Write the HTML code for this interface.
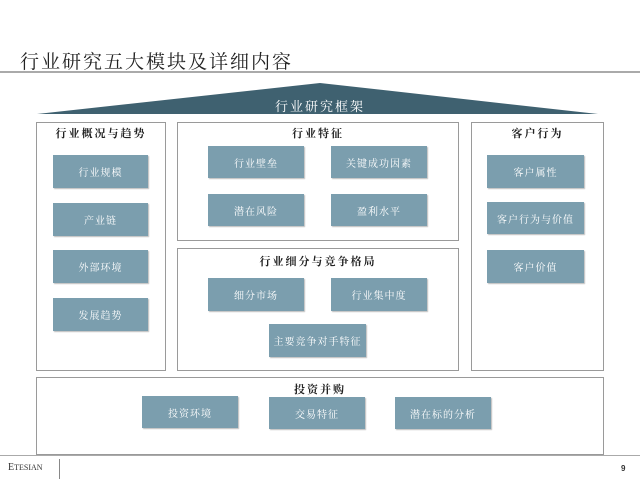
<!DOCTYPE html>
<html><head><meta charset="utf-8"><style>
body{margin:0;width:640px;height:480px;background:#fff;position:relative;overflow:hidden;font-family:"Liberation Serif","Noto Serif CJK SC",serif;}
.a{position:absolute}
.p{position:absolute;border:1px solid #9a9a9a;background:#fff;box-sizing:border-box}
.b{position:absolute;background:#7b9eae;color:#fff;font-size:10px;display:flex;align-items:center;justify-content:center;letter-spacing:1px;box-shadow:1px 1px 1px #bbb}
.h{position:absolute;font-size:11px;font-weight:bold;color:#222;text-align:center;letter-spacing:2px}
</style></head><body>
<div class="a" style="left:20px;top:47px;font-size:19px;letter-spacing:2px;color:#222">行业研究五大模块及详细内容</div>
<div class="a" style="left:0;top:71px;width:640px;height:2px;background:#aaa"></div>
<svg class="a" style="left:0;top:0" width="640" height="120"><polygon points="37,114 320,83 598,114" fill="#3f6170"/></svg>
<div class="a" style="left:0;width:640px;top:96px;text-align:center;color:#fff;font-size:13px;letter-spacing:2px">行业研究框架</div>

<div class="p" style="left:36px;top:122px;width:130px;height:249px"></div>
<div class="p" style="left:177px;top:122px;width:282px;height:119px"></div>
<div class="p" style="left:177px;top:248px;width:282px;height:123px"></div>
<div class="p" style="left:471px;top:122px;width:133px;height:249px"></div>
<div class="p" style="left:36px;top:377px;width:568px;height:78px"></div>

<div class="h" style="left:36px;width:130px;top:125px">行业概况与趋势</div>
<div class="h" style="left:177px;width:282px;top:125px">行业特征</div>
<div class="h" style="left:177px;width:282px;top:253px">行业细分与竞争格局</div>
<div class="h" style="left:471px;width:133px;top:125px">客户行为</div>
<div class="h" style="left:36px;width:568px;top:381px">投资并购</div>

<div class="b" style="left:53px;top:155px;width:95px;height:33px">行业规模</div>
<div class="b" style="left:53px;top:203px;width:95px;height:33px">产业链</div>
<div class="b" style="left:53px;top:250px;width:95px;height:33px">外部环境</div>
<div class="b" style="left:53px;top:298px;width:95px;height:33px">发展趋势</div>

<div class="b" style="left:208px;top:146px;width:96px;height:32px">行业壁垒</div>
<div class="b" style="left:331px;top:146px;width:96px;height:32px">关键成功因素</div>
<div class="b" style="left:208px;top:194px;width:96px;height:32px">潜在风险</div>
<div class="b" style="left:331px;top:194px;width:96px;height:32px">盈利水平</div>

<div class="b" style="left:208px;top:278px;width:96px;height:33px">细分市场</div>
<div class="b" style="left:331px;top:278px;width:96px;height:33px">行业集中度</div>
<div class="b" style="left:269px;top:324px;width:97px;height:33px">主要竞争对手特征</div>

<div class="b" style="left:487px;top:155px;width:97px;height:33px">客户属性</div>
<div class="b" style="left:487px;top:202px;width:97px;height:32px">客户行为与价值</div>
<div class="b" style="left:487px;top:250px;width:97px;height:33px">客户价值</div>

<div class="b" style="left:142px;top:396px;width:96px;height:32px">投资环境</div>
<div class="b" style="left:269px;top:397px;width:96px;height:32px">交易特征</div>
<div class="b" style="left:395px;top:397px;width:96px;height:32px">潜在标的分析</div>

<div class="a" style="left:0;top:455px;width:640px;height:1px;background:#aaa"></div>
<div class="a" style="left:8px;top:462px;font-size:10px;color:#333">E<span style="font-size:8px">TESIAN</span></div>
<div class="a" style="left:59px;top:459px;width:1px;height:20px;background:#888"></div>
<div class="a" style="left:621px;top:464px;font-size:8px;font-weight:bold;color:#333;font-family:'Liberation Sans',sans-serif">9</div>
</body></html>
